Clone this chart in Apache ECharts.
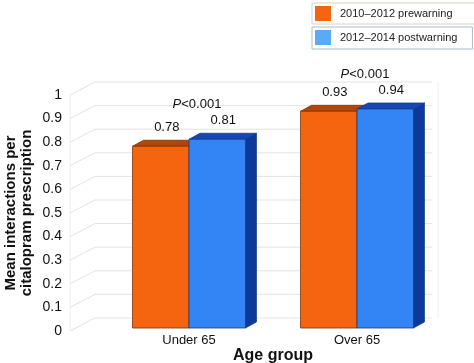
<!DOCTYPE html>
<html><head><meta charset="utf-8">
<script src="https://cdn.jsdelivr.net/npm/echarts@6/dist/echarts.min.js"></script>
<style>html,body{margin:0;padding:0;background:#fff}#c{width:474px;height:363px}</style>
</head><body><div id="c"></div>
<script>
const categories = ['Under 65', 'Over 65'];
const seriesNames = ['2010–2012 prewarning', '2012–2014 postwarning'];
const prewarning = [0.78, 0.93];
const postwarning = [0.81, 0.94];
const pLabels = ['P<0.001', 'P<0.001'];
const yTicks = [0, 0.1, 0.2, 0.3, 0.4, 0.5, 0.6, 0.7, 0.8, 0.9, 1];

const FONT = '"Liberation Sans", Arial, Helvetica, sans-serif';
const palette = [
  {front: '#F5640F', top: '#B04608', side: '#A84206', stroke: '#7A3306', legend: '#F5640F'},
  {front: '#3384F4', top: '#1747B5', side: '#0C3A98', stroke: '#173C8E', legend: '#5AAAF6'}
];
const DX = 11, DY = -6;
const AXIS_OFF = 35;

function barRender(sIdx) {
  return function (params, api) {
    const cat = api.value(0), v = api.value(1);
    const base = api.coord([cat, 0]);
    const topP = api.coord([cat, v]);
    const band = api.size([1, 0])[0];
    const w = band * 0.336;
    const x0 = sIdx === 0 ? base[0] - w : base[0];
    const x1 = x0 + w;
    const yb = base[1], yt = topP[1];
    const p = palette[sIdx];
    return {type: 'group', children: [
      {type: 'polygon', shape: {points: [[x1, yt], [x1 + DX, yt + DY], [x1 + DX, yb + DY], [x1, yb]]},
        style: {fill: p.side, stroke: p.stroke, lineWidth: 0.8}},
      {type: 'polygon', shape: {points: [[x0, yt], [x1, yt], [x1 + DX, yt + DY], [x0 + DX, yt + DY]]},
        style: {fill: p.top, stroke: p.stroke, lineWidth: 0.8}},
      {type: 'rect', shape: {x: x0, y: yt, width: w, height: yb - yt},
        style: {fill: p.front, stroke: p.stroke, lineWidth: 0.8}},
      {type: 'text', x: (x0 + x1) / 2 + 6, y: yt - 18.5,
        style: {text: v.toFixed(2), fill: '#111', font: '13px ' + FONT, align: 'center', verticalAlign: 'middle'}}
    ]};
  };
}

function gridRender(params, api) {
  const cs = params.coordSys;
  const v = api.value(1);
  const y = api.coord([0, v])[1];
  const fx = cs.x - AXIS_OFF;
  const bx = fx + 25;
  const ex = cs.x + cs.width - 9;
  const lc = '#e3e3e3';
  const children = [
    {type: 'line', shape: {x1: fx, y1: y, x2: bx, y2: y - 13}, style: {stroke: lc, lineWidth: 1}},
    {type: 'line', shape: {x1: bx, y1: y - 13, x2: ex, y2: y - 13}, style: {stroke: lc, lineWidth: 1}}
  ];
  if (params.dataIndex === 0) {
    const y1 = api.coord([0, 1])[1];
    children.push({type: 'line', shape: {x1: fx, y1: y1, x2: fx, y2: y}, style: {stroke: '#eeeeee', lineWidth: 1}});
    children.push({type: 'line', shape: {x1: ex + 6, y1: y1 - 13, x2: ex + 6, y2: y - 13}, style: {stroke: '#f0f0f0', lineWidth: 1}});
  }
  return {type: 'group', children: children};
}

function pRender(params, api) {
  const cat = api.value(0), v = api.value(1);
  const pt = api.coord([cat, v]);
  const txt = pLabels[params.dataIndex];
  return {type: 'text', x: pt[0] + 8, y: pt[1] - 35,
    style: {text: '{i|' + txt.charAt(0) + '}' + txt.slice(1), fill: '#111', font: '13px ' + FONT,
      align: 'center', verticalAlign: 'middle',
      rich: {i: {fontStyle: 'italic', fontSize: 13, fontFamily: FONT, fill: '#111'}}}};
}

const chart = echarts.init(document.getElementById('c'), null, {renderer: 'canvas'});
const legendBase = {
  orient: 'horizontal', itemWidth: 16, itemHeight: 15, selectedMode: false,
  backgroundColor: '#fff', borderWidth: 1, icon: 'rect',
  textStyle: {fontSize: 11, color: '#222', fontFamily: FONT, padding: [0, 0, 0, 4]}
};
chart.setOption({
  animation: false,
  backgroundColor: '#fff',
  textStyle: {fontFamily: FONT},
  legend: [
    Object.assign({}, legendBase, {left: 312, top: 3, padding: [3, 23, 3, 3], borderColor: '#d9d2c3',
      data: [{name: seriesNames[0], itemStyle: {color: palette[0].legend}}]}),
    Object.assign({}, legendBase, {left: 312, top: 27, padding: [3, 15, 4, 3], borderColor: '#a9bccb',
      data: [{name: seriesNames[1], itemStyle: {color: palette[1].legend}}]})
  ],
  grid: [
    {left: 105, width: 336, top: 95, height: 236, outerBoundsMode: 'none', containLabel: false},
    {left: 105, width: 336, top: 95, height: 233, outerBoundsMode: 'none', containLabel: false}
  ],
  xAxis: [
    {type: 'category', gridIndex: 0, data: categories,
      axisLine: {show: false}, axisTick: {show: false},
      axisLabel: {fontSize: 13, color: '#111', margin: 3},
      name: 'Age group', nameLocation: 'middle', nameGap: 17, nameMoveOverlap: false,
      nameTextStyle: {fontSize: 16, fontWeight: 'bold', color: '#111'}},
    {type: 'category', gridIndex: 1, data: categories, show: false}
  ],
  yAxis: [
    {type: 'value', gridIndex: 0, min: 0, max: 1, interval: 0.1, offset: AXIS_OFF,
      axisLine: {show: false}, axisTick: {show: false}, splitLine: {show: false},
      axisLabel: {fontSize: 14, color: '#111', margin: 8},
      name: 'Mean interactions per\ncitalopram prescription', nameLocation: 'middle', nameGap: 35,
      nameMoveOverlap: false,
      nameTextStyle: {fontSize: 15, fontWeight: 'bold', color: '#111', lineHeight: 16}},
    {type: 'value', gridIndex: 1, min: 0, max: 1, show: false}
  ],
  series: [
    {type: 'custom', name: 'grid', xAxisIndex: 0, yAxisIndex: 0, z: 1, silent: true,
      renderItem: gridRender, data: yTicks.map(v => [0, v]), encode: {x: 0, y: 1}},
    {type: 'custom', name: seriesNames[0], xAxisIndex: 1, yAxisIndex: 1, z: 2,
      itemStyle: {color: palette[0].legend}, renderItem: barRender(0),
      data: prewarning.map((v, i) => [i, v]), encode: {x: 0, y: 1}},
    {type: 'custom', name: seriesNames[1], xAxisIndex: 1, yAxisIndex: 1, z: 3,
      itemStyle: {color: palette[1].legend}, renderItem: barRender(1),
      data: postwarning.map((v, i) => [i, v]), encode: {x: 0, y: 1}},
    {type: 'custom', name: 'p', xAxisIndex: 1, yAxisIndex: 1, z: 4, silent: true,
      renderItem: pRender, data: categories.map((c, i) => [i, Math.max(prewarning[i], postwarning[i])]),
      encode: {x: 0, y: 1}}
  ]
});
</script></body></html>
